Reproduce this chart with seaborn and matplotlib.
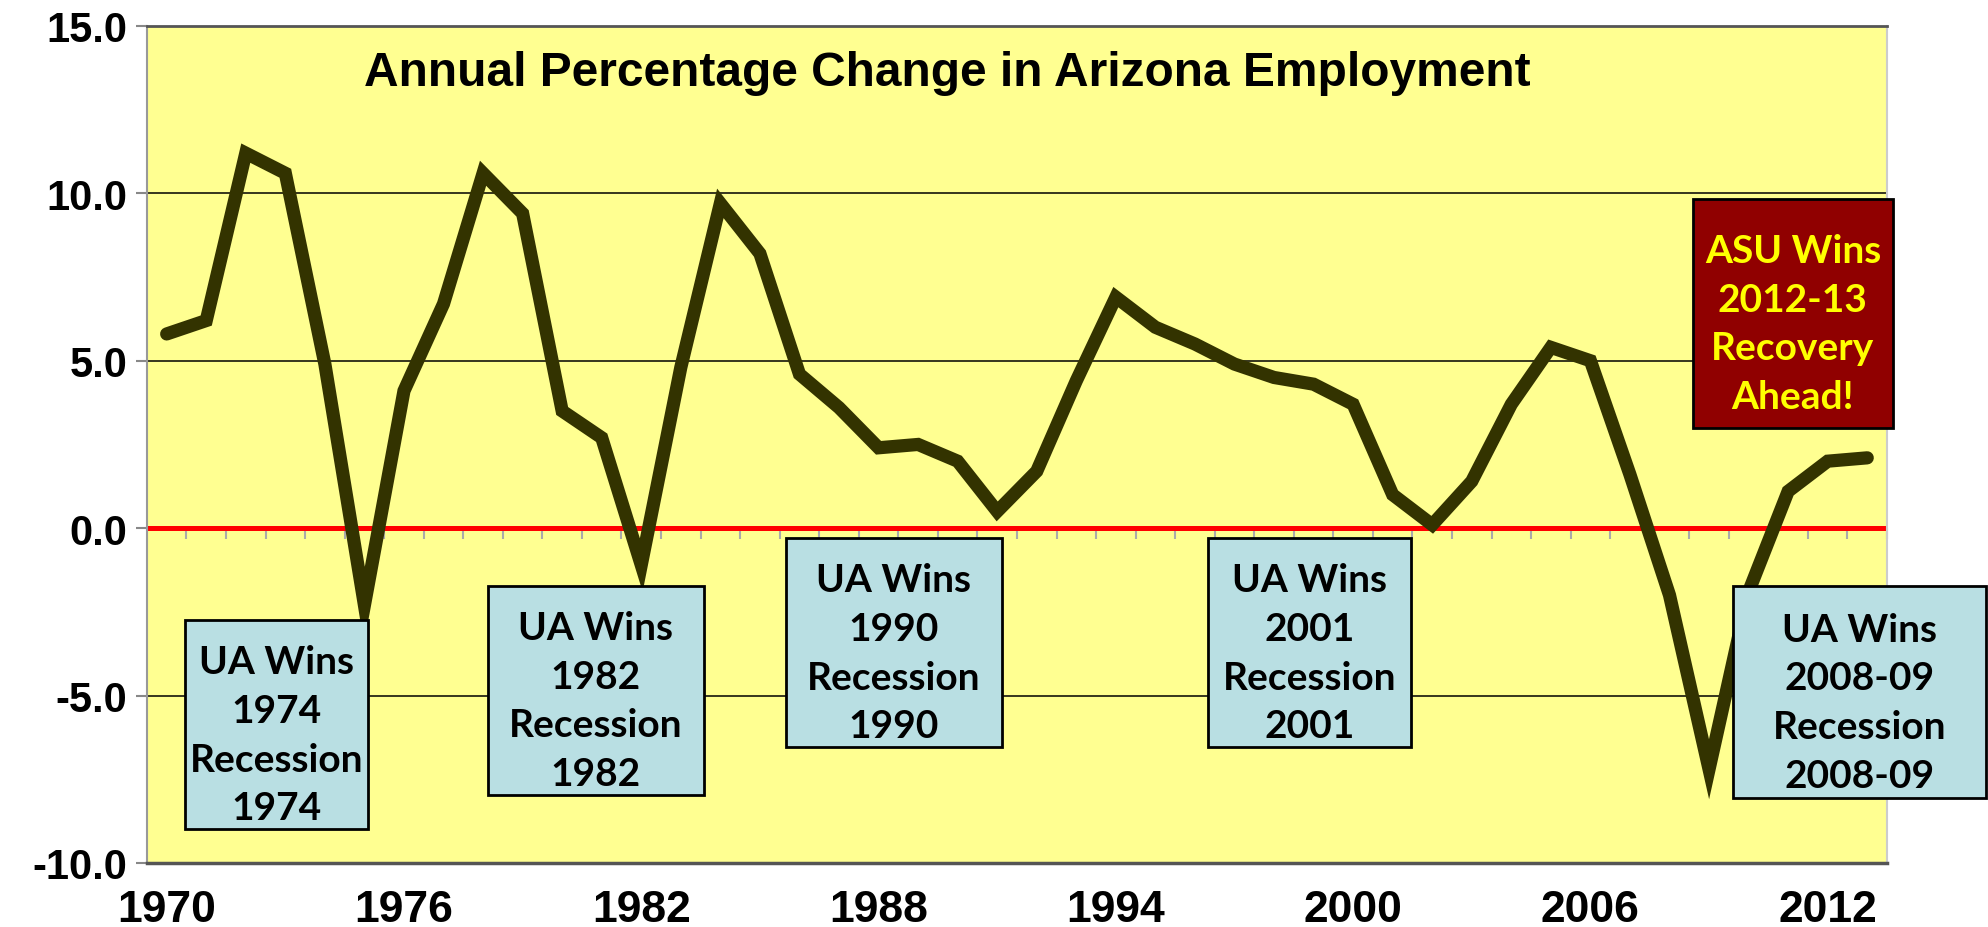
import numpy as np
import pandas as pd
import seaborn as sns
import matplotlib.pyplot as plt
from matplotlib.patches import Rectangle

years = list(range(1970, 2014))
pct_change = [5.8, 6.2, 11.2, 10.6, 4.9, -2.3, 4.1, 6.7, 10.6, 9.4,
              3.5, 2.7, -1.1, 4.8, 9.7, 8.2, 4.6, 3.6, 2.4, 2.5,
              2.0, 0.5, 1.7, 4.4, 6.9, 6.0, 5.5, 4.9, 4.5, 4.3,
              3.7, 1.0, 0.1, 1.4, 3.7, 5.4, 5.0, 1.6, -2.0, -7.2,
              -1.9, 1.1, 2.0, 2.1]
tick_years = [1970, 1976, 1982, 1988, 1994, 2000, 2006, 2012]
y_ticks = [-10, -5, 0, 5, 10, 15]

# annotation boxes: (x0, x1, y0, y1) in category/value units, text
ua_boxes = [
    ((0.46, 5.09, -8.99, -2.75), "UA Wins\n1974\nRecession\n1974"),
    ((8.12, 13.58, -7.97, -1.73), "UA Wins\n1982\nRecession\n1982"),
    ((15.66, 21.12, -6.54, -0.30), "UA Wins\n1990\nRecession\n1990"),
    ((26.33, 31.46, -6.54, -0.30), "UA Wins\n2001\nRecession\n2001"),
    ((39.6, 46.0, -8.06, -1.73), "UA Wins\n2008-09\nRecession\n2008-09"),
]
asu_box = ((38.59, 43.65, 2.99, 9.83), "ASU Wins\n2012-13\nRecovery\nAhead!")

df = pd.DataFrame({"idx": np.arange(len(years)), "year": years, "pct": pct_change})

sns.set_style("white")
plt.rcParams["font.family"] = ["Liberation Sans", "DejaVu Sans"]
plt.rcParams["text.color"] = "black"
plt.rcParams["xtick.color"] = "black"
plt.rcParams["ytick.color"] = "black"

fig = plt.figure(figsize=(19.88, 9.28), dpi=100)
ax = fig.add_axes([0.0739, 0.069, 0.8753, 0.902])
ax.set_facecolor("#FFFF91")

for v in [-5, 5, 10]:
    ax.axhline(v, color="black", lw=1.1, zorder=1)
ax.axhline(0, color="#FF0000", lw=3.6, zorder=2)

sns.lineplot(data=df, x="idx", y="pct", ax=ax, color="#333300", lw=9.5,
             solid_capstyle="round", solid_joinstyle="miter", zorder=4)

ax.set_xlim(-0.5, len(years) - 0.5)
ax.set_ylim(-10, 15)
ax.set_xlabel("")
ax.set_ylabel("")

ax.set_yticks(y_ticks)
ax.set_yticklabels([f"{v:.1f}" for v in y_ticks], fontsize=30, fontweight="bold")
ax.set_xticks([years.index(y) for y in tick_years])
ax.set_xticklabels([str(y) for y in tick_years], fontsize=32, fontweight="bold")
ax.tick_params(axis="x", length=0, pad=19)
ax.tick_params(axis="y", direction="out", length=8, width=1.5, color="#888888", pad=6, left=True)

ax.spines["left"].set_color("#999999")
ax.spines["left"].set_linewidth(1.5)
ax.spines["right"].set_color("#CCCCCC")
ax.spines["right"].set_linewidth(1.5)
ax.spines["top"].set_color("#555555")
ax.spines["top"].set_linewidth(2)
ax.spines["bottom"].set_color("#555555")
ax.spines["bottom"].set_linewidth(2.5)

# category tick marks hanging off the zero line
sec = ax.secondary_xaxis(10 / 25)
sec.set_xticks(np.arange(0.5, len(years), 1.0))
sec.set_xticklabels([])
sec.tick_params(axis="x", direction="out", length=8, width=1.5, color="#AAAAAA")
sec.spines["bottom"].set_visible(False)

ax.text(0.46, 0.944, "Annual Percentage Change in Arizona Employment",
        transform=ax.transAxes, ha="center", va="center", color="black",
        fontsize=34.5, fontweight="bold", family=["Liberation Sans", "DejaVu Sans"], zorder=6)

def draw_box(spec, text, face, tcolor):
    x0, x1, y0, y1 = spec
    ax.add_patch(Rectangle((x0, y0), x1 - x0, y1 - y0, facecolor=face,
                           edgecolor="black", lw=2, zorder=5, clip_on=False))
    ax.text((x0 + x1) / 2, (y0 + y1) / 2 - 0.3, text, ha="center", va="center",
            fontsize=28, fontweight="bold", color=tcolor, linespacing=1.47,
            family=["Lato", "DejaVu Sans"], zorder=6, clip_on=False)

for spec, text in ua_boxes:
    draw_box(spec, text, "#B9DFE3", "black")
draw_box(asu_box[0], asu_box[1], "#900000", "#FFFF00")

fig.savefig("out.png", dpi=100)
